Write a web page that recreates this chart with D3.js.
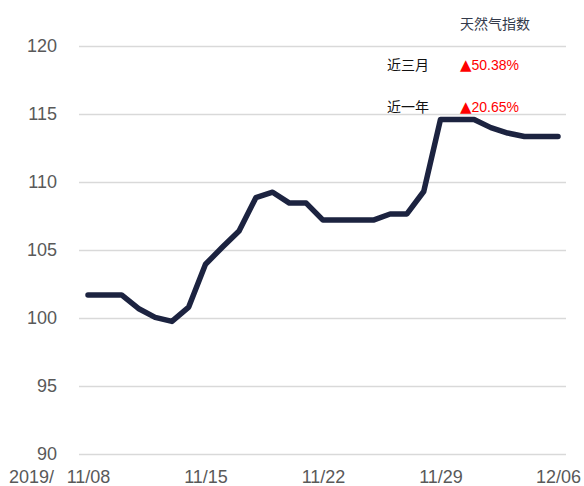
<!DOCTYPE html>
<html>
<head>
<meta charset="utf-8">
<script src="https://cdn.jsdelivr.net/npm/d3@7"></script>
<style>
  body { margin: 0; background: #fff; }
  svg { display: block; font-family: "Liberation Sans", Arial, sans-serif; }
</style>
</head>
<body>
<script>
var width = 584,
  height = 486;

// Data
var dates = ["2019-11-08", "2019-11-09", "2019-11-10", "2019-11-11", "2019-11-12", "2019-11-13", "2019-11-14",
  "2019-11-15", "2019-11-16", "2019-11-17", "2019-11-18", "2019-11-19", "2019-11-20", "2019-11-21",
  "2019-11-22", "2019-11-23", "2019-11-24", "2019-11-25", "2019-11-26", "2019-11-27", "2019-11-28",
  "2019-11-29", "2019-11-30", "2019-12-01", "2019-12-02", "2019-12-03", "2019-12-04", "2019-12-05",
  "2019-12-06"];
var gasIndex = [101.7, 101.7, 101.7, 100.7, 100.05, 99.75, 100.8,
  103.95, 105.2, 106.4, 108.85, 109.25, 108.45, 108.45,
  107.2, 107.2, 107.2, 107.2, 107.65, 107.65, 109.3,
  114.6, 114.6, 114.6, 114.0, 113.6, 113.35, 113.35,
  113.35];
var yTicks = [90, 95, 100, 105, 110, 115, 120];
var xTickDates = ["2019-11-08", "2019-11-15", "2019-11-22", "2019-11-29", "2019-12-06"];
var seriesName = "天然气指数";
var statLabels = ["近三月", "近一年"];
var statValues = ["50.38%", "20.65%"];

var parse = d3.timeParse("%Y-%m-%d");

var data = dates.map(function (d, i) { return { date: parse(d), value: gasIndex[i] }; });

var svg = d3.select("body").append("svg")
  .attr("width", width)
  .attr("height", height);

var x = d3.scaleTime()
  .domain([parse(dates[0]), parse(dates[dates.length - 1])])
  .range([88, 558]);

var y = d3.scaleLinear()
  .domain([90, 120])
  .range([454, 46]);

// Y axis with gridlines
var yAxis = svg.append("g")
  .attr("transform", "translate(79,0)")
  .call(d3.axisLeft(y).tickValues(yTicks).tickSize(-487).tickPadding(22));

yAxis.select(".domain").remove();
yAxis.selectAll(".tick line").attr("stroke", "#d9d9d9").attr("stroke-width", 1.5);
yAxis.selectAll(".tick text")
  .attr("fill", "#595959")
  .style("font-size", "18px")
  .style("font-family", "'Liberation Sans', Arial, sans-serif");

// X axis labels
var xAxis = svg.append("g")
  .attr("transform", "translate(0,454)")
  .call(d3.axisBottom(x).tickValues(xTickDates.map(parse)).tickFormat(d3.timeFormat("%m/%d")).tickSize(0).tickPadding(16));

xAxis.select(".domain").remove();
xAxis.selectAll(".tick text")
  .attr("fill", "#595959")
  .style("font-size", "18px")
  .style("font-family", "'Liberation Sans', Arial, sans-serif");

svg.append("text")
  .attr("x", 54)
  .attr("y", 483)
  .attr("text-anchor", "end")
  .attr("fill", "#595959")
  .style("font-size", "18px")
  .text("2019/");

// Line
var line = d3.line()
  .x(function (d) { return x(d.date); })
  .y(function (d) { return y(d.value); });

svg.append("path")
  .datum(data)
  .attr("d", line)
  .attr("fill", "none")
  .attr("stroke", "#1c2340")
  .attr("stroke-width", 5.5)
  .attr("stroke-linejoin", "round")
  .attr("stroke-linecap", "round");

// Legend / stats
var cjk = "'Noto Sans CJK SC', sans-serif";

svg.append("text")
  .attr("x", 495)
  .attr("y", 29)
  .attr("text-anchor", "middle")
  .attr("fill", "#333a4a")
  .style("font-family", cjk)
  .style("font-size", "14px")
  .text(seriesName);

var statY = [70, 112];

statLabels.forEach(function (lab, i) {
  svg.append("text")
    .attr("x", 387)
    .attr("y", statY[i])
    .attr("fill", "#111")
    .style("font-family", cjk)
    .style("font-size", "14px")
    .text(lab);

  var t = svg.append("text")
    .attr("x", 460)
    .attr("y", statY[i])
    .attr("fill", "#ff0000")
    .style("font-size", "14px");
  t.append("tspan")
    .style("font-family", "'DejaVu Sans', sans-serif")
    .style("font-size", "15px")
    .text("▲");
  t.append("tspan").text(statValues[i]);
});
</script>
</body>
</html>
